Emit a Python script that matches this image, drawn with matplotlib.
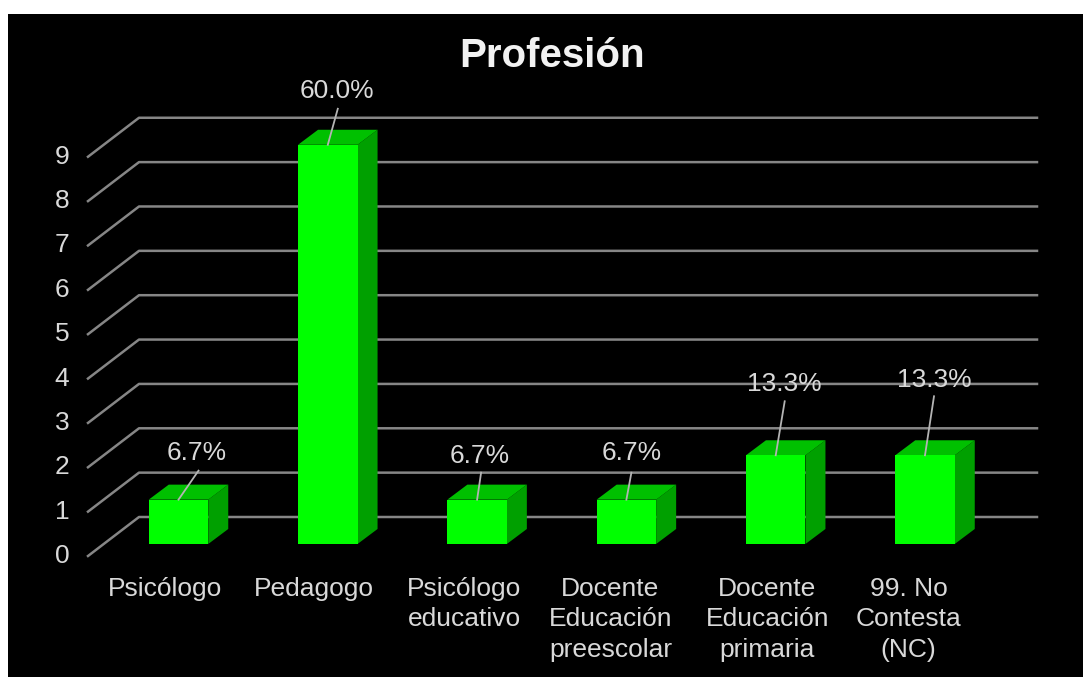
# Profesion chart, fake 3D bars on black

import matplotlib
matplotlib.use("Agg")
from matplotlib import pyplot as plt
from matplotlib.patches import Polygon

plt.rcParams["font.family"] = ["Liberation Sans", "DejaVu Sans"]

# Data
categories = [
    "Psicólogo",
    "Pedagogo",
    "Psicólogo\neducativo",
    "Docente\nEducación\npreescolar",
    "Docente\nEducación\nprimaria",
    "99. No\nContesta\n(NC)",
]
counts = [1, 9, 1, 1, 2, 2]
percents = ["6.7%", "60.0%", "6.7%", "6.7%", "13.3%", "13.3%"]
y_ticks = [0, 1, 2, 3, 4, 5, 6, 7, 8, 9]

# Pixel layout of the picture
W, H = 1083, 677
X0, STEP = 178.5, 149.3   # first bar centre, bar spacing
Y0, UNIT = 544.0, 44.36   # bar base, pixels per count
BAR_W = 59.5 / STEP
DEPTH_X, DEPTH_Y = 20 / STEP, 15 / UNIT

# Label tweaks, in pixels
label_dx = [-14, -14, -13, -16, -8.5, -16.5]
leader_top = [(20, 29), (10, 36), (4, 27), (5, 27), (9, 54), (9, 59)]
text_off = [(18, 46.5), (9, 53.5), (3, 43.5), (5, 46.5), (9, 71.5), (9, 75.5)]

GREY = "#868686"
TEXT = "#d9d9d9"
FS = 19


def px(x):
    return (x - X0) / STEP


def py(y):
    return (Y0 - y) / UNIT


fig = plt.figure(figsize=(W / 100, H / 100), dpi=100, facecolor="white")
ax = fig.add_axes([8 / W, 0, (W - 8) / W, (H - 14) / H], facecolor="black")
ax.set_xlim(px(8), px(W))
ax.set_ylim(py(H), py(14))
ax.set_xticks([])
ax.set_yticks([])
for s in ax.spines.values():
    s.set_visible(False)

# Floor and wall lines
for v in y_ticks:
    ax.plot(
        [px(88), px(139), px(1037)],
        [py(556) + v, py(517) + v, py(517) + v],
        color=GREY, lw=1.8, zorder=1,
    )
    ax.text(px(62), py(556) + v, str(v), color=TEXT, fontsize=FS,
            ha="center", va="center")

# Bars
xs = list(range(len(counts)))
ax.bar(xs, counts, width=BAR_W, color="#00ff00", zorder=3)
for x, v in zip(xs, counts):
    l, r = x - BAR_W / 2, x + BAR_W / 2
    ax.add_patch(Polygon(
        [(r, 0), (r + DEPTH_X, DEPTH_Y), (r + DEPTH_X, v + DEPTH_Y), (r, v)],
        color="#00a000", lw=0, zorder=2,
    ))
    ax.add_patch(Polygon(
        [(l, v), (l + DEPTH_X, v + DEPTH_Y), (r + DEPTH_X, v + DEPTH_Y), (r, v)],
        color="#00c000", lw=0, zorder=2,
    ))

# Data labels with leader lines
for x, v, p, lead, off in zip(xs, counts, percents, leader_top, text_off):
    ax.plot([x, x + lead[0] / STEP], [v, v + lead[1] / UNIT],
            color="#b4b4b4", lw=1.3, zorder=4)
    ax.text(x + off[0] / STEP, v + off[1] / UNIT, p, color=TEXT, fontsize=FS,
            ha="center", va="center", zorder=5)

# Category labels
for x, c, d in zip(xs, categories, label_dx):
    ax.text(x + d / STEP, py(577), c, color=TEXT, fontsize=FS,
            ha="center", va="top", linespacing=1.33)

ax.text(px(552), py(56), "Profesión", color="#f2f2f2", fontsize=29,
        fontweight="bold", ha="center", va="center")

fig.savefig("out.png", dpi=100, facecolor="white")
